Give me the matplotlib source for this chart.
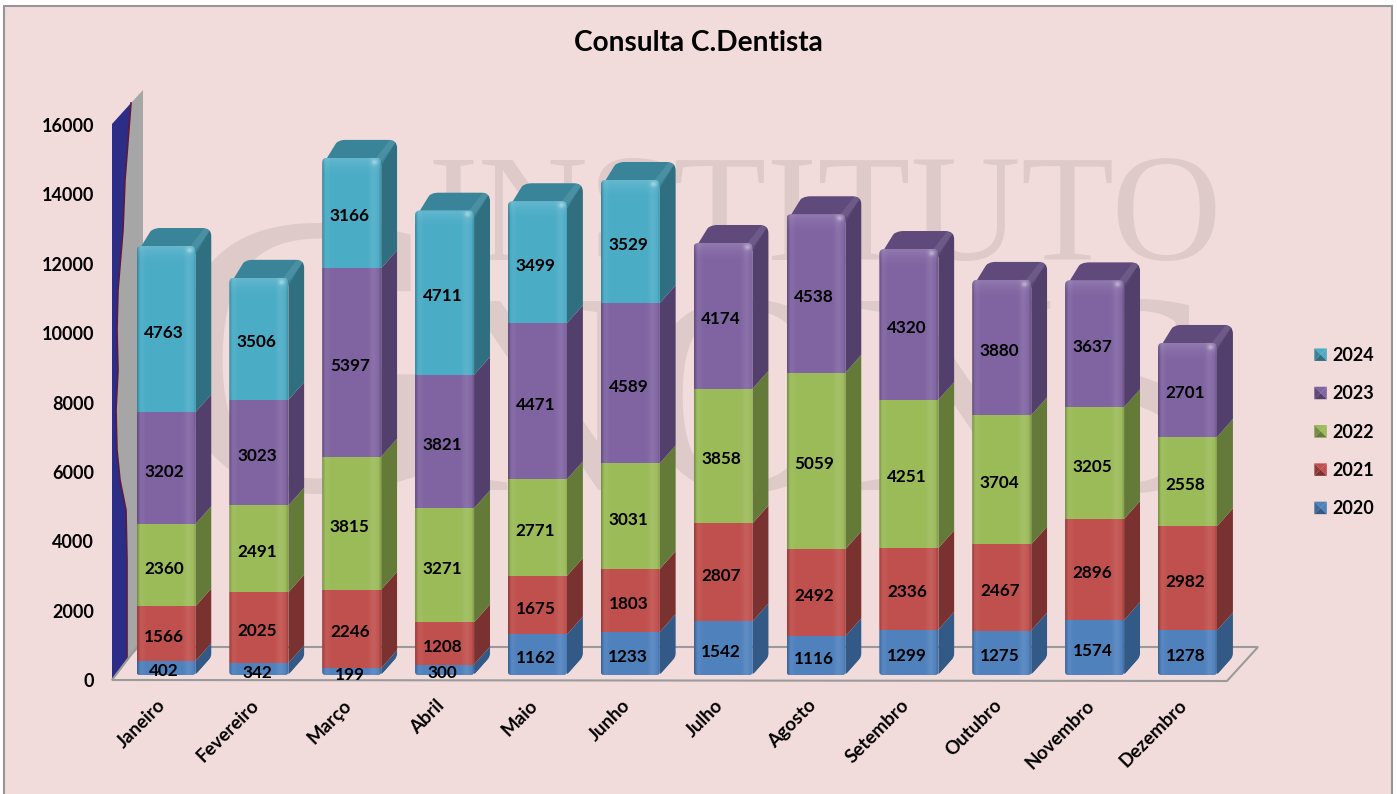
"""
Stacked 3D-look bar chart of monthly dental consultations.
"""

import numpy as np
import matplotlib
matplotlib.use("Agg")
import matplotlib.pyplot as plt
from matplotlib.legend_handler import HandlerBase
from matplotlib.patches import Patch, Polygon, Rectangle
from matplotlib.path import Path
from matplotlib.transforms import Affine2D

MONTHS = ["Janeiro", "Fevereiro", "Março", "Abril", "Maio", "Junho", "Julho",
          "Agosto", "Setembro", "Outubro", "Novembro", "Dezembro"]
YEARS = ["2020", "2021", "2022", "2023", "2024"]
V2020 = [402, 342, 199, 300, 1162, 1233, 1542, 1116, 1299, 1275, 1574, 1278]
V2021 = [1566, 2025, 2246, 1208, 1675, 1803, 2807, 2492, 2336, 2467, 2896, 2982]
V2022 = [2360, 2491, 3815, 3271, 2771, 3031, 3858, 5059, 4251, 3704, 3205, 2558]
V2023 = [3202, 3023, 5397, 3821, 4471, 4589, 4174, 4538, 4320, 3880, 3637, 2701]
V2024 = [4763, 3506, 3166, 4711, 3499, 3529, 0, 0, 0, 0, 0, 0]
SERIES = [V2020, V2021, V2022, V2023, V2024]
Y_TICKS = [0, 2000, 4000, 6000, 8000, 10000, 12000, 14000, 16000]

FRONT = ["#4f81bd", "#c0504d", "#9bbb59", "#8064a2", "#4bacc6"]
SIDE = ["#335a87", "#7a3230", "#647a38", "#523f6b", "#2f6f80"]
TOP = ["#3d6a9c", "#8f3d3a", "#76903f", "#604a7b", "#3a8499"]
BG = "#f2dcdb"
WATERMARK = "#dfcaca"

W, H = 1397, 794
PX_X = 92.86    # pixels per category
PX_Y = 0.0349   # pixels per value
X0, Y0 = 166, 675
BAR_W = 59 / PX_X
DX = 16 / PX_X
DY = 18 / PX_Y
SCALE = np.array([PX_X, PX_Y])

plt.rcParams["font.family"] = ["Lato", "DejaVu Sans"]
plt.rcParams["font.weight"] = "bold"


def rounded_path(points, radii):
    """Closed path through points, each corner rounded by its radius in pixels."""
    pts = np.array(points, dtype=float) * SCALE
    verts, codes = [], []
    n = len(pts)
    for i in range(n):
        p, a, b = pts[i], pts[i - 1], pts[(i + 1) % n]
        la, lb = np.linalg.norm(a - p), np.linalg.norm(b - p)
        r = min(radii[i], la / 2, lb / 2)
        verts += [p + (a - p) / la * r, p, p + (b - p) / lb * r]
        codes += [Path.LINETO if i else Path.MOVETO, Path.CURVE3, Path.CURVE3]
    verts.append(verts[0])
    codes.append(Path.CLOSEPOLY)
    return Path(np.array(verts) / SCALE, codes)


class PyramidHandler(HandlerBase):
    """Legend key drawn as a small bevelled square."""

    def create_artists(self, legend, orig_handle, xdescent, ydescent, width,
                       height, fontsize, trans):
        i = int(orig_handle.get_label())
        s = 9
        x0, y0 = width - s + 0.4, (height - s) / 2
        c = (x0 + s / 2, y0 + s / 2)
        a, b, d, e = (x0, y0), (x0 + s, y0), (x0 + s, y0 + s), (x0, y0 + s)
        faces = [([e, d, c], FRONT[i]), ([e, a, c], TOP[i]),
                 ([d, b, c], FRONT[i]), ([a, b, c], SIDE[i])]
        return [Polygon(v, closed=True, facecolor=col, edgecolor="none", transform=trans)
                for v, col in faces]


def draw_bar(ax, i, totals, shade, top_band):
    x = np.arange(len(MONTHS))[i]
    xl, xr = x - BAR_W / 2, x + BAR_W / 2
    top = totals[-1]
    outline = rounded_path([(xl, 0), (xl, top), (xl + DX, top + DY), (xr + DX, top + DY),
                            (xr + DX, DY), (xr, 0)], [3, 6, 8, 9, 4, 4])
    front = rounded_path([(xl, 0), (xl, top), (xr, top), (xr, 0)], [3, 5, 5, 3])

    for s in range(len(SERIES)):
        y0, y1 = totals[s], totals[s + 1]
        if y1 == y0:
            continue
        rect = ax.bar(x, y1 - y0, bottom=y0, width=BAR_W, color=FRONT[s], zorder=3)[0]
        rect.set_clip_path(front, ax.transData)
        side = Polygon([(xr, y0), (xr + DX, y0 + DY), (xr + DX, y1 + DY), (xr, y1)],
                       facecolor=SIDE[s], edgecolor="none", zorder=2)
        ax.add_patch(side)
        side.set_clip_path(outline, ax.transData)
        if y1 == top:
            # Behind the front face, so the rounded front corners show the cap colour
            cap = Polygon([(xl, top - 8 / PX_Y), (xl + DX, top + DY), (xr + DX, top + DY),
                           (xr, top - 8 / PX_Y)],
                          facecolor=TOP[s], edgecolor="none", zorder=2)
            ax.add_patch(cap)
            cap.set_clip_path(outline, ax.transData)
            ridge = Polygon([(xr - 5 / PX_X, top), (xr + DX - 7 / PX_X, top + DY),
                             (xr + DX - 2 / PX_X, top + DY - 3 / PX_Y), (xr + 1 / PX_X, top - 3 / PX_Y)],
                            facecolor="white", alpha=0.09, edgecolor="none", zorder=2.5)
            ax.add_patch(ridge)
            ridge.set_clip_path(outline, ax.transData)
        ax.text(x - 2 / PX_X, (y0 + y1) / 2 - 3.5 / PX_Y, str(SERIES[s][i]), ha="center",
                va="center", fontsize=12.3, color="black", zorder=6)

    im = ax.imshow(shade, extent=(xl, xr, 0, top), aspect="auto", zorder=4,
                   interpolation="bilinear")
    im.set_clip_path(front, ax.transData)
    im = ax.imshow(top_band, extent=(xl, xr, top - 22 / PX_Y, top), aspect="auto", zorder=4,
                   interpolation="bilinear")
    im.set_clip_path(front, ax.transData)


def main():
    fig = plt.figure(figsize=(W / 100, H / 100), dpi=100, facecolor="white")
    px = Affine2D().scale(1, -1).translate(0, H)

    ax = fig.add_axes([0, 0, 1, 1])
    ax.set_axis_off()
    xlim = (-X0 / PX_X, (W - X0) / PX_X)
    ylim = (-(H - Y0) / PX_Y, Y0 / PX_Y)

    fig.add_artist(Rectangle((4, 6), 1388, 800, transform=px, facecolor=BG,
                             edgecolor="#969696", linewidth=1.5, zorder=-5))

    # Watermark behind the bars
    ax.text(825, 260, "INSTITUTO", transform=px, family="Liberation Serif", weight="normal",
            fontsize=110, color=WATERMARK, ha="center", va="baseline", zorder=0)
    ax.text(310, 490, "G", transform=px, family="Liberation Serif", weight="normal",
            fontsize=290, color=WATERMARK, ha="center", va="baseline", zorder=0)
    ax.text(435, 490, "NONS", transform=px, family="Liberation Serif", weight="normal",
            fontsize=207, color=WATERMARK, ha="left", va="baseline", zorder=0)

    # Left wall and floor of the 3D box
    wave = [(131, 103), (125, 180), (123, 230), (118, 290), (117, 330), (118, 370), (116, 410),
            (117, 450), (120, 480), (126, 510), (127, 560), (127, 660)]
    ax.add_patch(Polygon([(143, 90)] + wave + [(137, 650), (143, 645)], transform=px,
                         facecolor="#a6a6a6", edgecolor="none", zorder=1))
    ax.add_patch(Polygon([(112, 124)] + wave + [(112, 680)], transform=px, facecolor="#2b2d86",
                         edgecolor="none", zorder=1))
    ax.plot(*zip(*wave), transform=px, color="#5e1a3c", linewidth=1.2, zorder=1)
    ax.add_patch(Polygon([(112, 680), (1227, 681), (1258, 647), (137, 647)], transform=px,
                         fill=False, edgecolor="#9a9a9a", linewidth=1.5, zorder=1))

    # Shading overlays for the front faces
    t = np.linspace(0, 1, 60)
    alpha_w = 0.09 * np.exp(-((t - 0.88) / 0.07) ** 2) + 0.05 * np.exp(-((t - 0.08) / 0.05) ** 2)
    alpha_k = 0.22 * np.clip(1 - t / 0.04, 0, 1) + 0.12 * np.clip((t - 0.96) / 0.04, 0, 1)
    shade = np.zeros((1, 60, 4))
    shade[..., :3] = (alpha_k < alpha_w)[None, :, None] * 1.0
    shade[..., 3] = np.maximum(alpha_w, alpha_k)
    top_band = np.ones((22, 60, 4))
    v = np.linspace(1, 0, 22)[:, None]
    top_band[..., 3] = 0.14 * v ** 2 * np.ones((22, 60)) + 0.35 * np.exp(
        -((t[None, :] - 0.9) / 0.05) ** 2) * np.exp(-((v - 0.82) / 0.12) ** 2)

    totals = np.vstack([np.zeros(len(MONTHS)), np.cumsum(SERIES, axis=0)])
    for i in range(len(MONTHS)):
        draw_bar(ax, i, totals[:, i], shade, top_band)
    ax.set_xlim(xlim)
    ax.set_ylim(ylim)

    # Separate axes carrying the tick labels, on the wall's front plane
    ax2 = fig.add_axes([112 / W, (H - 680) / H, (1240 - 112) / W, (680 - 125) / H], frameon=False)
    ax2.patch.set_alpha(0)
    ax2.set_xlim((112 - X0 + 9) / PX_X, (1240 - X0 + 9) / PX_X)
    ax2.set_ylim(0, 16000)
    ax2.set_yticks(Y_TICKS)
    ax2.set_yticklabels([str(v) for v in Y_TICKS], fontsize=13)
    ax2.tick_params(axis="y", length=0, pad=13)
    ax2.set_xticks(np.arange(len(MONTHS)))
    ax2.set_xticklabels(MONTHS, fontsize=13.5, rotation=45, ha="right", rotation_mode="anchor")
    ax2.tick_params(axis="x", length=0, pad=12)

    fig.text(698 / W, (H - 43) / H, "Consulta C.Dentista", fontsize=20.2, ha="center", va="center")

    handles = [Patch(label=str(i)) for i in reversed(range(len(YEARS)))]
    ax.legend(handles, list(reversed(YEARS)), handler_map={Patch: PyramidHandler()},
              bbox_to_anchor=(1301 / W, (H - 347) / H), bbox_transform=fig.transFigure,
              loc="upper left", frameon=False, fontsize=13, labelspacing=1.18,
              handlelength=1.4, handletextpad=0.35, borderpad=0, borderaxespad=0)

    fig.savefig("out.png", dpi=100, facecolor=fig.get_facecolor())
    plt.close(fig)


if __name__ == "__main__":
    main()
